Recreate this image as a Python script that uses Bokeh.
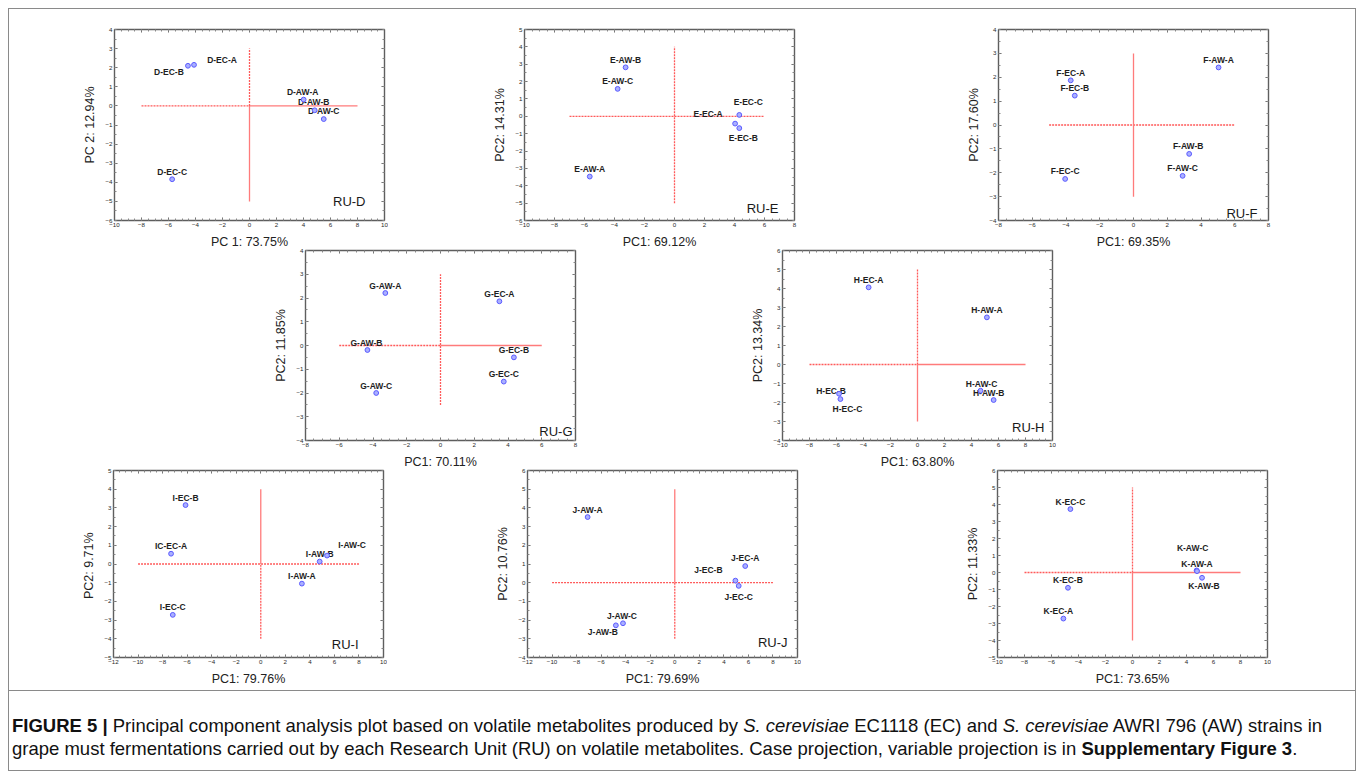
from bokeh.plotting import figure
from bokeh.models import (Range1d, LinearAxis, SingleIntervalTicker, ColumnDataSource,
                          Label, Spacer, Div, CustomJSTickFormatter)
from bokeh.layouts import row, column
from bokeh.core.properties import value
from bokeh.embed import file_html
from bokeh.resources import INLINE

# ---------------- data (case projections) ----------------
D_names = ["D-EC-A", "D-EC-B", "D-AW-A", "D-AW-B", "D-AW-C", "D-EC-C"]
D_pc1 = [-4.11, -4.56, 4.01, 4.83, 5.50, -5.73]
D_pc2 = [2.15, 2.10, 0.33, -0.23, -0.69, -3.84]

E_names = ["E-AW-B", "E-AW-C", "E-EC-C", "E-EC-A", "E-EC-B", "E-AW-A"]
E_pc1 = [-3.26, -3.79, 4.32, 4.04, 4.32, -5.65]
E_pc2 = [2.82, 1.58, 0.08, -0.42, -0.68, -3.47]

F_names = ["F-EC-A", "F-EC-B", "F-EC-C", "F-AW-A", "F-AW-B", "F-AW-C"]
F_pc1 = [-3.72, -3.48, -4.05, 5.04, 3.30, 2.91]
F_pc2 = [1.87, 1.23, -2.26, 2.41, -1.21, -2.13]

G_names = ["G-AW-A", "G-EC-A", "G-AW-B", "G-EC-B", "G-EC-C", "G-AW-C"]
G_pc1 = [-3.27, 3.49, -4.33, 4.35, 3.75, -3.81]
G_pc2 = [2.21, 1.86, -0.19, -0.50, -1.52, -2.00]

H_names = ["H-EC-A", "H-AW-A", "H-EC-B", "H-EC-C", "H-AW-C", "H-AW-B"]
H_pc1 = [-3.62, 5.14, -5.81, -5.71, 4.67, 5.64]
H_pc2 = [4.06, 2.48, -1.54, -1.82, -1.38, -1.87]

I_names = ["I-EC-B", "IC-EC-A", "I-AW-C", "I-AW-B", "I-AW-A", "I-EC-C"]
I_pc1 = [-6.13, -7.31, 5.40, 4.80, 3.35, -7.17]
I_pc2 = [3.15, 0.55, 0.45, 0.13, -1.05, -2.72]

J_names = ["J-AW-A", "J-EC-A", "J-EC-B", "J-EC-C", "J-AW-C", "J-AW-B"]
J_pc1 = [-7.10, 5.74, 4.94, 5.21, -4.22, -4.80]
J_pc2 = [3.51, 0.89, 0.11, -0.17, -2.17, -2.28]

K_names = ["K-EC-C", "K-AW-C", "K-AW-A", "K-AW-B", "K-EC-B", "K-EC-A"]
K_pc1 = [-4.60, 4.75, 4.78, 5.15, -4.78, -5.12]
K_pc2 = [3.73, 0.12, 0.08, -0.31, -0.90, -2.71]

# axis titles
X_titles = {"D": "PC 1: 73.75%", "E": "PC1: 69.12%", "F": "PC1: 69.35%", "G": "PC1: 70.11%",
            "H": "PC1: 63.80%", "I": "PC1: 79.76%", "J": "PC1: 79.69%", "K": "PC1: 73.65%"}
Y_titles = {"D": "PC 2: 12.94%", "E": "PC2: 14.31%", "F": "PC2: 17.60%", "G": "PC2: 11.85%",
            "H": "PC2: 13.34%", "I": "PC2:  9.71%", "J": "PC2: 10.76%", "K": "PC2: 11.33%"}
RU_titles = {"D": "RU-D", "E": "RU-E", "F": "RU-F", "G": "RU-G", "H": "RU-H",
             "I": "RU-I", "J": "RU-J", "K": None}

# axis extents
X_ranges = {"D": (-10, 10), "E": (-10, 8), "F": (-8, 8), "G": (-8, 8),
            "H": (-10, 10), "I": (-12, 10), "J": (-12, 10), "K": (-10, 10)}
Y_ranges = {"D": (-6, 4), "E": (-6, 5), "F": (-4, 4), "G": (-4, 4),
            "H": (-4, 6), "I": (-5, 5), "J": (-4, 6), "K": (-5, 6)}

# reference cross lines at 0: (start, end) for solid and dotted pieces
H_solid = {"D": [(0, 8)], "E": [], "F": [], "G": [(0, 6)], "H": [(0, 8)], "I": [], "J": [], "K": [(0, 8)]}
H_dotted = {"D": [(-8, 0)], "E": [(-7, 6)], "F": [(-5, 6)], "G": [(-6, 0)], "H": [(-8, 0)],
            "I": [(-10, 8)], "J": [(-10, 8)], "K": [(-8, 0)]}
V_solid = {"D": [(-5, 0)], "E": [], "F": [(-3, 3)], "G": [], "H": [(-3, 0)], "I": [(0, 4)],
           "J": [(0, 5)], "K": [(-4, 0)]}
V_dotted = {"D": [(0, 3)], "E": [(-5, 4)], "F": [], "G": [(-2.5, 3)], "H": [(0, 5)], "I": [(-4, 0)],
            "J": [(-3, 0)], "K": [(0, 5)]}

DATA = {"D": (D_names, D_pc1, D_pc2), "E": (E_names, E_pc1, E_pc2), "F": (F_names, F_pc1, F_pc2),
        "G": (G_names, G_pc1, G_pc2), "H": (H_names, H_pc1, H_pc2), "I": (I_names, I_pc1, I_pc2),
        "J": (J_names, J_pc1, J_pc2), "K": (K_names, K_pc1, K_pc2)}

# ---------------- styling / placement (screen px) ----------------
DEF = (0, -7.5)
LABEL_OFFSETS = {
    "D-EC-A": (28, -5), "D-EC-B": (-19, 6), "D-AW-A": (-1, -8), "D-AW-B": (-1, -8), "D-AW-C": (0, -8),
    "E-AW-B": (0, -7), "E-EC-C": (9, -13), "E-EC-A": (-27, -10), "E-EC-B": (4, 10),
    "F-AW-B": (-1, -7.5),
    "G-AW-B": (-1, -7.5),
    "H-EC-B": (-8, -3), "H-EC-C": (7, 10), "H-AW-C": (1, -7), "H-AW-B": (-5, -7),
    "I-AW-C": (25, -11),
    "J-AW-A": (0, -7), "J-EC-A": (0, -8), "J-EC-B": (-27, -11), "J-EC-C": (0, 11), "J-AW-C": (-1, -7.5),
    "J-AW-B": (-13, 6.5),
    "K-AW-C": (-4, -22.5), "K-AW-B": (2, 8), "K-EC-A": (-5, -7.5),
}
RU_OFFSETS = {"D": (19, 19), "E": (16, 12), "F": (11, 7), "G": (3, 9), "H": (8, 13),
              "I": (25, 13), "J": (10, 15)}

FONT = "Liberation Sans"
RED_SOLID = "#ff7b7b"
RED_DOT = "#ff5a5a"
FRAME_W = 270
LEFT_B = 44
RIGHT_B = 4


def make_panel(k, top_b, frame_h, bottom_b):
    names, pc1, pc2 = DATA[k]
    p = figure(width=LEFT_B + FRAME_W + RIGHT_B, height=top_b + frame_h + bottom_b,
               x_range=Range1d(*X_ranges[k]), y_range=Range1d(*Y_ranges[k]),
               output_backend="svg", toolbar_location=None,
               min_border_left=LEFT_B, min_border_right=RIGHT_B,
               min_border_top=top_b, min_border_bottom=bottom_b,
               border_fill_color=None, background_fill_color="white",
               outline_line_color="#5e5e5e", outline_line_width=1.4)
    p.grid.visible = False
    xt = SingleIntervalTicker(interval=2, num_minor_ticks=4)
    yt = SingleIntervalTicker(interval=1, num_minor_ticks=2)
    p.xaxis[0].ticker = xt
    p.yaxis[0].ticker = yt
    p.xaxis[0].axis_label = X_titles[k]
    p.yaxis[0].axis_label = Y_titles[k]
    for ax in (p.xaxis[0], p.yaxis[0]):
        ax.major_label_text_font_size = "6.2px"
        ax.major_label_text_font = FONT
        ax.major_label_text_color = "#2a2a2a"
        ax.major_label_standoff = 2
        ax.axis_label_text_font = FONT
        ax.axis_label_text_font_size = "12.5px"
        ax.axis_label_text_font_style = "normal"
        ax.axis_label_text_color = "#222222"
        ax.axis_label_standoff = 5
        ax.major_tick_in = 3
        ax.major_tick_out = 0
        ax.minor_tick_in = 2
        ax.minor_tick_out = 0
        ax.axis_line_color = "#5e5e5e"
        ax.major_tick_line_color = "#666666"
        ax.minor_tick_line_color = "#888888"
    blank = CustomJSTickFormatter(code="return ''")
    for loc, tk in (("above", xt), ("right", yt)):
        ax = LinearAxis(ticker=tk, formatter=blank, major_label_standoff=0,
                        major_tick_in=3, major_tick_out=0, minor_tick_in=2, minor_tick_out=0,
                        axis_line_color="#5e5e5e", major_tick_line_color="#666666",
                        minor_tick_line_color="#888888", major_label_text_font_size="1px")
        p.add_layout(ax, loc)

    # reference cross
    for segs, dash, color in ((H_solid[k], "solid", RED_SOLID), (H_dotted[k], "2 1", RED_DOT)):
        if segs:
            p.segment(x0=[s[0] for s in segs], x1=[s[1] for s in segs],
                      y0=[0] * len(segs), y1=[0] * len(segs),
                      line_color=color, line_width=1.3, line_dash=dash)
    for segs, dash, color in ((V_solid[k], "solid", RED_SOLID), (V_dotted[k], "2 1", RED_DOT)):
        if segs:
            p.segment(y0=[s[0] for s in segs], y1=[s[1] for s in segs],
                      x0=[0] * len(segs), x1=[0] * len(segs),
                      line_color=color, line_width=1.3, line_dash=dash)

    src = ColumnDataSource(dict(
        x=pc1, y=pc2, name=names,
        dx=[LABEL_OFFSETS.get(n, DEF)[0] for n in names],
        dy=[LABEL_OFFSETS.get(n, DEF)[1] for n in names]))
    p.text(x="x", y="y", text="name", source=src, x_offset="dx", y_offset="dy",
           text_align="center", text_baseline="middle", text_font=value(FONT),
           text_font_style="bold", text_font_size="8.5px", text_color="#1e1e1e")
    p.scatter(x="x", y="y", source=src, size=4.8, fill_color="#aab0ff",
              line_color="#5a5aff", line_width=1)

    if RU_titles[k]:
        ox, oy = RU_OFFSETS[k]
        p.add_layout(Label(x=X_ranges[k][1], y=Y_ranges[k][0], x_offset=-ox, y_offset=oy,
                           text=RU_titles[k], text_align="right", text_baseline="alphabetic",
                           text_font=FONT, text_font_size="13px", text_color="#1a1a1a"))
    return p


# rows
pD = make_panel("D", 20, 192, 30)
pE = make_panel("E", 20, 192, 30)
pF = make_panel("F", 20, 192, 30)
pG = make_panel("G", 11, 191, 30)
pH = make_panel("H", 11, 191, 30)
pI = make_panel("I", 11, 191, 27)
pJ = make_panel("J", 11, 191, 27)
pK = make_panel("K", 11, 191, 27)

row1 = row(Spacer(width=61), pD, Spacer(width=92), pE, Spacer(width=156), pF)
row2 = row(Spacer(width=252), pG, Spacer(width=159), pH, margin=(-12, 0, 0, 0))
row3 = row(Spacer(width=60), pI, Spacer(width=96), pJ, Spacer(width=152), pK, margin=(-12, 0, 0, 0))

caption_html = (
    "<b>FIGURE 5 |</b> Principal component analysis plot based on volatile metabolites produced by "
    "<i>S. cerevisiae</i> EC1118 (EC) and <i>S. cerevisiae</i> AWRI 796 (AW) strains in<br>"
    "grape must fermentations carried out by each Research Unit (RU) on volatile metabolites. "
    "Case projection, variable projection is in <b>Supplementary Figure 3</b>."
)
caption = Div(text=caption_html, width=1346, height=80, margin=(2, 0, 0, 0),
              styles={"border-top": "1px solid #8a8a8a", "font-family": FONT,
                      "font-size": "18.5px", "line-height": "23px", "color": "#111111",
                      "white-space": "nowrap", "padding-top": "23px", "padding-left": "3px",
                      "box-sizing": "border-box"})

layout = column(row1, row2, row3, caption, margin=(8, 0, 0, 8),
                styles={"border": "1px solid #8a8a8a", "background-color": "white"})

open("out.html", "w").write(file_html(layout, INLINE, "PCA"))
